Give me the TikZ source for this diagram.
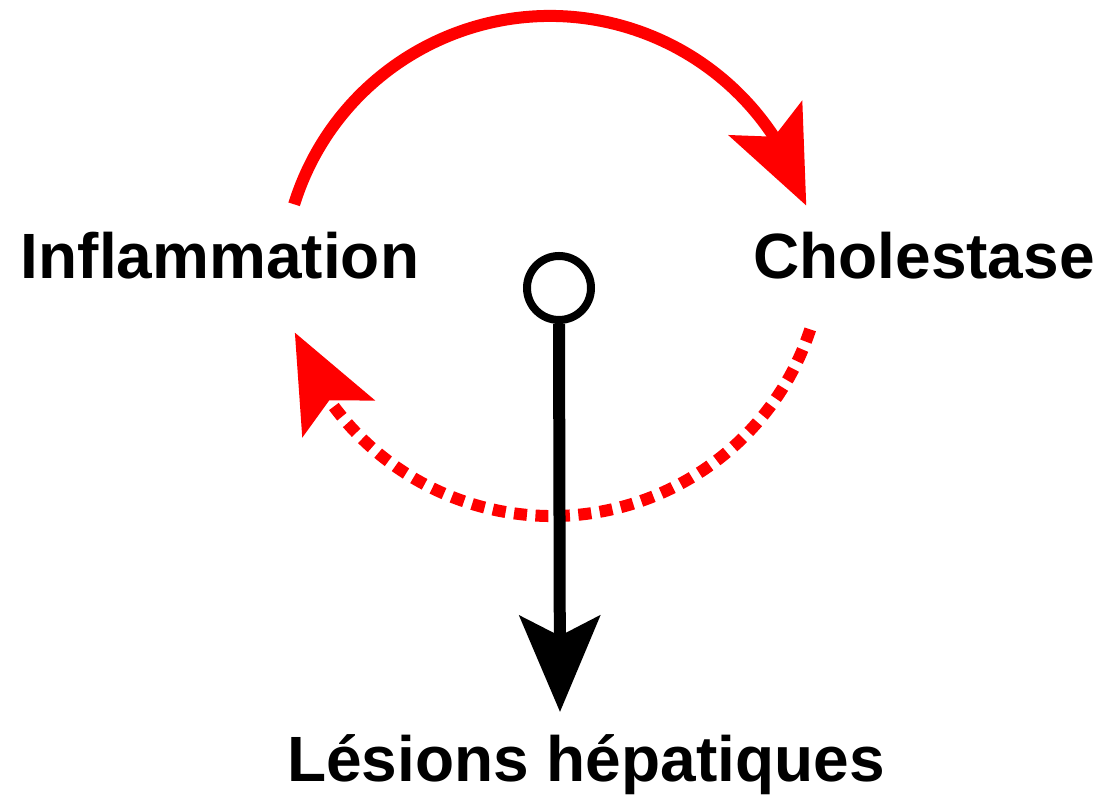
\documentclass[tikz,border=0pt]{standalone}
\usepackage{fontspec}
\setmainfont{Liberation Sans}
\usetikzlibrary{arrows.meta,bending,calc}
\tikzset{
 redarc/.style={draw=red,line width=6pt,-{Stealth[length=48pt,width=40pt,inset=10pt]}},
 reddots/.style={redarc,dash pattern=on 6.5pt off 4.25pt},
 effect/.style={line width=6pt,-{Stealth[length=48pt,width=40pt,inset=10pt]}},
 hub/.style={circle,draw,line width=4pt,fill=white,minimum size=32pt,inner sep=0},
 term/.style={font=\fontsize{32}{38}\selectfont\bfseries,anchor=base,inner sep=0}
}
\begin{document}
\begin{tikzpicture}[x=0.5pt,y=0.5pt]
\path[use as bounding box] (0,0) rectangle (1104,796);
\node[term] (infl) at (220,517) {Inflammation};
\node[term] (chol) at (924,517) {Cholestase};
\node[term] (lesions) at (586,14) {Lésions hépatiques};
\coordinate (topc) at (550,512);
\coordinate (botc) at (552,552);
\coordinate (tipL) at (560,84);
\draw[redarc] ($(topc)+(162.7:268)$) arc[start angle=162.7,end angle=17,radius=268];
\draw[reddots] ($(botc)+(-18.3:272)$) arc[start angle=-18.3,end angle=-161,radius=272];
\node[hub] (hub) at (559,508) {};
\draw[effect] (hub.south) -- (tipL);
\end{tikzpicture}
\end{document}
